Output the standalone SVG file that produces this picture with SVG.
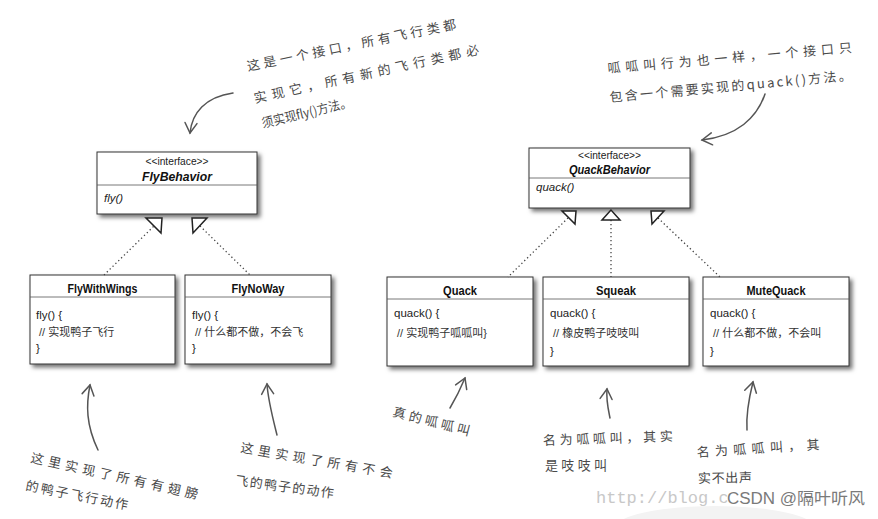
<svg xmlns="http://www.w3.org/2000/svg" width="878" height="519" viewBox="0 0 878 519">
<style>
.box{fill:#fff;stroke:#333;stroke-width:1;filter:url(#sh)}
.div{stroke:#555;stroke-width:0.8}
.st{font-family:"Liberation Sans Narrow","Liberation Sans",Arial,sans-serif;font-size:10px;fill:#222;text-anchor:middle}
.ti{font-family:"Liberation Sans Narrow","Liberation Sans",Arial,sans-serif;font-size:13px;font-weight:bold;fill:#111;text-anchor:middle}
.it{font-style:italic}
.bd{font-family:"Liberation Sans Narrow","Liberation Sans",Arial,sans-serif;font-size:11.5px;fill:#222}
.cm{font-family:"Liberation Sans","Noto Sans CJK SC",sans-serif;font-size:11px;fill:#333}
.dot{stroke:#444;stroke-width:1.3;stroke-dasharray:1.3 2.7;fill:none}
.tri{fill:#fff;stroke:#222;stroke-width:1.5;stroke-linejoin:miter}
.hw{fill:none;stroke:#555;stroke-width:1.5;stroke-linecap:round;marker-end:url(#ah)}
.ht{font-family:"Noto Sans CJK SC",sans-serif;font-size:13px;fill:#4a4a4a}
</style>
<defs>
<filter id="sh" x="-10%" y="-10%" width="130%" height="140%">
<feGaussianBlur in="SourceAlpha" stdDeviation="2.2"/>
<feOffset dx="3" dy="3" result="b"/>
<feFlood flood-color="#000" flood-opacity="0.55"/>
<feComposite in2="b" operator="in"/>
<feMerge><feMergeNode/><feMergeNode in="SourceGraphic"/></feMerge>
</filter>
<marker id="ah" viewBox="-12 -8 14 16" markerWidth="14" markerHeight="16" refX="0" refY="0" orient="auto" markerUnits="userSpaceOnUse">
<path d="M-10,-6 L0,0 L-10,6" fill="none" stroke="#555" stroke-width="1.5" stroke-linecap="round"/>
</marker>
</defs>
<rect width="878" height="519" fill="#fff"/>

<g id="FlyBehavior">
<rect class="box" x="97" y="152" width="160" height="62"/>
<line class="div" x1="97" y1="185" x2="257" y2="185"/>
<text class="st" x="177" y="165" textLength="63" lengthAdjust="spacingAndGlyphs">&lt;&lt;interface&gt;&gt;</text>
<text class="ti it" x="177" y="181" textLength="70" lengthAdjust="spacingAndGlyphs">FlyBehavior</text>
<text class="bd it" x="104" y="202">fly()</text>
</g>

<g id="QuackBehavior">
<rect class="box" x="529" y="148" width="161" height="60"/>
<line class="div" x1="529" y1="178" x2="690" y2="178"/>
<text class="st" x="609.5" y="159" textLength="63" lengthAdjust="spacingAndGlyphs">&lt;&lt;interface&gt;&gt;</text>
<text class="ti it" x="609.5" y="174" textLength="81" lengthAdjust="spacingAndGlyphs">QuackBehavior</text>
<text class="bd it" x="536" y="191">quack()</text>
</g>

<g id="FlyWithWings">
<rect class="box" x="30" y="275" width="145" height="89"/>
<line class="div" x1="30" y1="297" x2="175" y2="297"/>
<text class="ti" x="102.5" y="293" textLength="70" lengthAdjust="spacingAndGlyphs">FlyWithWings</text>
<text class="bd" x="36" y="319">fly() {</text>
<text class="cm" x="39" y="336">// 实现鸭子飞行</text>
<text class="bd" x="36" y="352">}</text>
</g>

<g id="FlyNoWay">
<rect class="box" x="185" y="275" width="146" height="89"/>
<line class="div" x1="185" y1="297" x2="331" y2="297"/>
<text class="ti" x="258" y="293" textLength="53" lengthAdjust="spacingAndGlyphs">FlyNoWay</text>
<text class="bd" x="192" y="319">fly() {</text>
<text class="cm" x="195" y="336">// 什么都不做，不会飞</text>
<text class="bd" x="192" y="352">}</text>
</g>

<g id="Quack">
<rect class="box" x="387" y="277" width="146" height="89"/>
<line class="div" x1="387" y1="299" x2="533" y2="299"/>
<text class="ti" x="460" y="295" textLength="34" lengthAdjust="spacingAndGlyphs">Quack</text>
<text class="bd" x="394" y="317">quack() {</text>
<text class="cm" x="397" y="337">// 实现鸭子呱呱叫}</text>
</g>

<g id="Squeak">
<rect class="box" x="543" y="277" width="146" height="89"/>
<line class="div" x1="543" y1="299" x2="689" y2="299"/>
<text class="ti" x="616" y="295" textLength="40" lengthAdjust="spacingAndGlyphs">Squeak</text>
<text class="bd" x="550" y="317">quack() {</text>
<text class="cm" x="553" y="337">// 橡皮鸭子吱吱叫</text>
<text class="bd" x="550" y="355">}</text>
</g>

<g id="MuteQuack">
<rect class="box" x="703" y="277" width="146" height="89"/>
<line class="div" x1="703" y1="299" x2="849" y2="299"/>
<text class="ti" x="776" y="295" textLength="59" lengthAdjust="spacingAndGlyphs">MuteQuack</text>
<text class="bd" x="710" y="317">quack() {</text>
<text class="cm" x="713" y="337">// 什么都不做，不会叫</text>
<text class="bd" x="710" y="355">}</text>
</g>

<g id="connectors">
<line class="dot" x1="104" y1="275" x2="154" y2="226"/>
<polygon class="tri" points="146,218 162,218 161,233"/>
<line class="dot" x1="200" y1="226" x2="250" y2="275"/>
<polygon class="tri" points="192,218 207,218 193,233"/>
<line class="dot" x1="568" y1="218" x2="508" y2="277"/>
<polygon class="tri" points="562,211 576,211 575,224"/>
<line class="dot" x1="611" y1="220" x2="611" y2="277"/>
<polygon class="tri" points="611,210 602,220 620,220"/>
<line class="dot" x1="658" y1="218" x2="720" y2="277"/>
<polygon class="tri" points="651,211 664,211 652,224"/>
</g>

<g id="annotations">
<path class="hw" d="M233,93 C205,97 192,113 190,133"/>
<path class="hw" d="M765,94 C757,118 737,136 702,140"/>
<path class="hw" d="M98,450 C86,425 86,405 90,385"/>
<path class="hw" d="M277,435 C272,415 268,400 267,384"/>
<path class="hw" d="M450,408 C456,398 460,390 465,378"/>
<path class="hw" d="M610,418 C608,408 606,400 607,389"/>
<path class="hw" d="M747,430 C746,415 749,398 753,382"/>

<text class="ht" transform="translate(248,71) rotate(-11.5)" textLength="213" lengthAdjust="spacing">这是一个接口，所有飞行类都</text>
<text class="ht" transform="translate(255,103) rotate(-12.3)" textLength="230" lengthAdjust="spacing">实现它，所有新的飞行类都必</text>
<text class="ht" transform="translate(263,128) rotate(-13.5)" textLength="92" lengthAdjust="spacingAndGlyphs">须实现fly()方法。</text>

<text class="ht" transform="translate(608,73) rotate(-4.9)" textLength="245" lengthAdjust="spacing">呱呱叫行为也一样，一个接口只</text>
<text class="ht" transform="translate(610,102) rotate(-5.2)" textLength="243" lengthAdjust="spacing">包含一个需要实现的quack()方法。</text>

<text class="ht" transform="translate(30,462) rotate(12.5)" textLength="171" lengthAdjust="spacing">这里实现了所有有翅膀</text>
<text class="ht" transform="translate(25,490) rotate(11)" textLength="104" lengthAdjust="spacing">的鸭子飞行动作</text>

<text class="ht" transform="translate(240,452) rotate(9.7)" textLength="154" lengthAdjust="spacing">这里实现了所有不会</text>
<text class="ht" transform="translate(235,485) rotate(7.5)" textLength="99" lengthAdjust="spacing">飞的鸭子的动作</text>

<text class="ht" transform="translate(392,416) rotate(14.5)" textLength="79" lengthAdjust="spacing">真的呱呱叫</text>

<text class="ht" transform="translate(543,445) rotate(-1.8)" textLength="130" lengthAdjust="spacing">名为呱呱叫，其实</text>
<text class="ht" transform="translate(545,470)" textLength="62" lengthAdjust="spacing">是吱吱叫</text>

<text class="ht" transform="translate(697,457) rotate(-3.7)" textLength="123" lengthAdjust="spacing">名为呱呱叫，其</text>
<text class="ht" transform="translate(698,483) rotate(-1)" textLength="54" lengthAdjust="spacing">实不出声</text>
</g>

<g id="watermark">
<ellipse cx="715" cy="528" rx="100" ry="22" fill="#f3f3f3"/>
<text x="596" y="503" font-family="Liberation Mono, monospace" font-size="17" fill="#c8c8c8">http://blog.c</text>
<text x="727" y="504" font-family="Liberation Sans, Noto Sans CJK SC, sans-serif" font-size="16" fill="#7a7a7a" stroke="#fff" stroke-width="2" paint-order="stroke" textLength="138" lengthAdjust="spacingAndGlyphs">CSDN @隔叶听风</text>
</g>
</svg>
